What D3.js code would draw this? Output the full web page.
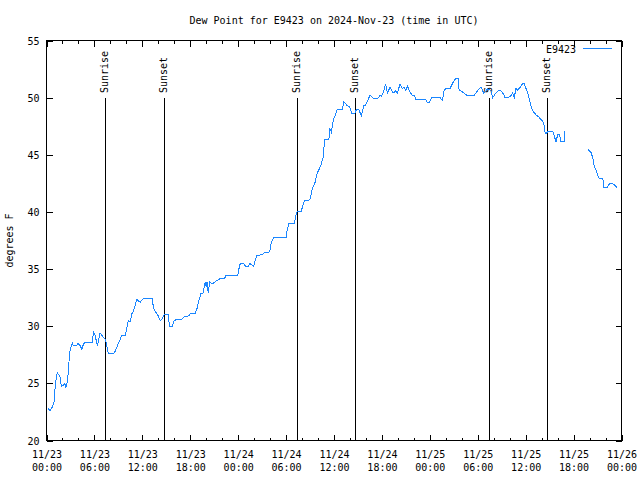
<!DOCTYPE html>
<html><head><meta charset="utf-8">
<script src="https://cdn.jsdelivr.net/npm/d3@7"></script>
<style>
body{margin:0;background:#fff}
svg{display:block}
text{font-family:"DejaVu Sans Mono","Liberation Mono",monospace;font-size:10px;fill:#000}
</style>
</head><body>
<svg id="chart" width="640" height="480"></svg>
<script>
const titleText = "Dew Point for E9423 on 2024-Nov-23 (time in UTC)";
const seriesName = "E9423";
const yLabelText = "degrees F";
const startUTC = Date.UTC(2024, 10, 23, 0, 0);
const endUTC = Date.UTC(2024, 10, 26, 0, 0);

// hours since 2024-11-23 00:00 UTC
const hoursSinceStart = [0.23,0.44,0.78,0.94,1.10,1.28,1.36,1.69,1.86,2.11,2.28,2.41,2.61,2.79,2.86,3.04,3.24,3.36,3.79,3.95,4.20,4.42,4.62,4.83,5.75,5.87,6.09,6.21,6.37,6.55,6.71,6.93,7.13,7.38,7.55,7.75,8.38,8.59,8.88,9.22,9.44,9.89,10.06,10.26,10.48,10.69,10.89,11.10,11.32,11.52,11.73,11.94,12.23,13.24,13.40,13.61,13.83,14.03,14.24,14.45,14.74,15.24,15.41,15.75,15.91,16.25,16.96,17.25,17.84,18.01,18.63,18.85,19.05,19.35,19.60,19.89,20.01,20.10,20.26,20.43,20.73,21.14,21.56,21.86,22.31,22.48,23.94,24.19,24.37,24.69,24.91,25.32,25.45,25.75,25.95,26.16,26.37,27.00,27.20,27.95,28.13,28.46,30.01,30.14,30.34,31.05,31.18,31.39,31.89,32.06,32.31,32.97,33.15,33.27,33.60,33.69,33.90,34.32,34.66,34.82,35.36,35.48,35.66,35.91,36.20,36.41,37.04,37.24,37.58,37.99,38.21,38.58,38.83,39.12,39.42,39.75,39.96,40.25,40.50,40.93,41.51,41.76,41.93,42.18,42.47,42.69,43.01,43.31,43.51,43.73,43.94,44.27,44.57,44.77,44.98,45.19,45.52,45.82,46.11,46.24,47.49,47.70,47.90,48.21,49.28,49.59,49.79,50.00,50.54,50.84,51.25,51.54,51.67,52.10,52.63,53.55,53.76,54.18,54.48,54.73,55.02,55.23,55.65,55.86,56.27,56.69,56.90,57.24,57.40,57.74,58.07,58.37,58.57,58.78,58.99,59.32,59.62,59.82,60.04,60.25,60.45,60.58,60.75,61.00,61.29,61.58,61.92,62.26,62.42,62.55,62.76,63.39,63.80,64.01,64.22,64.43,64.84,64.93,66.00,67.78,68.19,68.41,68.61,68.82,69.03,69.24,69.66,69.79,70.20,70.49,70.79,71.12,71.42];
const dewPointF = [22.8,22.6,23.0,23.4,24.8,25.7,25.9,25.6,24.7,24.85,25.0,24.65,25.1,26.4,27.6,28.1,28.5,28.3,28.3,28.5,28.3,28.0,28.4,28.6,28.6,29.5,29.2,28.8,28.3,28.85,29.4,29.2,29.0,28.85,28.3,27.6,27.6,27.8,28.3,28.85,29.2,29.2,29.9,30.5,30.4,31.1,31.3,31.85,32.35,32.2,32.1,32.3,32.45,32.45,31.55,31.3,31.1,30.85,30.5,30.6,31.0,31.0,30.0,30.0,30.4,30.6,30.6,30.85,30.9,31.1,31.15,31.55,32.15,32.9,32.9,33.9,33.4,33.9,32.9,33.9,33.7,33.9,34.1,34.2,34.2,34.45,34.45,35.35,35.5,35.5,35.25,35.25,35.5,35.35,35.25,35.8,36.2,36.25,36.4,36.5,37.25,37.8,37.8,38.4,39.0,39.0,39.6,40.0,40.05,40.45,41.0,41.05,41.55,42.05,42.5,42.8,43.4,44.0,44.8,46.3,46.3,47.3,47.0,48.05,48.5,49.0,49.0,49.65,49.35,49.15,48.6,48.6,49.0,48.95,48.4,49.35,49.35,49.8,50.2,49.95,49.95,50.2,50.1,50.5,51.2,50.4,50.9,50.5,50.4,50.65,50.4,51.2,50.8,50.95,50.65,51.0,50.5,50.2,50.15,49.85,49.85,49.55,49.55,50.0,50.0,49.75,50.65,50.8,50.8,51.25,51.7,51.7,50.65,50.5,50.2,50.2,50.4,50.8,50.9,50.4,50.55,50.8,50.6,50.0,50.4,50.65,50.6,50.3,50.0,50.0,50.1,50.4,50.0,50.8,50.65,50.9,51.25,51.2,50.8,50.4,49.85,49.5,49.05,48.75,48.5,48.35,48.1,47.8,47.0,46.8,47.05,47.05,46.15,46.75,46.75,46.15,46.15,47.1,null,45.5,45.2,44.7,43.95,43.65,43.2,42.9,42.9,42.15,42.15,42.45,42.5,42.35,42.15];

const sunriseHours = [7.33, 31.37, 55.41];
const sunsetHours = [14.71, 38.63, 62.67];
const yTicks = [20, 25, 30, 35, 40, 45, 50, 55];
const xMajorHours = [0, 6, 12, 18, 24, 30, 36, 42, 48, 54, 60, 66, 72];
const xMinorHours = [2, 4, 8, 10, 14, 16, 20, 22, 26, 28, 32, 34, 38, 40, 44, 46, 50, 52, 56, 58, 62, 64, 68, 70];

const L = 46.5, R = 621.5, T = 40.5, B = 440.5;
const lineColor = "#1a86ff";
const toDate = h => new Date(startUTC + h * 3600000);

const svg = d3.select("#chart");
const x = d3.scaleUtc().domain([new Date(startUTC), new Date(endUTC)]).range([L, R]);
const y = d3.scaleLinear().domain([20, 55]).range([B, T]);

const data = hoursSinceStart.map((h, i) => ({t: toDate(h), v: dewPointF[i]}));

function axisG(axis, tx, ty) {
  const g = svg.append("g").attr("transform", `translate(${tx},${ty})`).call(axis);
  g.select(".domain").remove();
  g.selectAll("line").attr("stroke", "#000").attr("shape-rendering", "crispEdges");
  g.selectAll(".tick text").remove();
  return g;
}
const majorDates = xMajorHours.map(toDate), minorDates = xMinorHours.map(toDate);
const gBottom = axisG(d3.axisBottom(x).tickValues(majorDates).tickSizeInner(-6).tickSizeOuter(0), 0, B);
axisG(d3.axisBottom(x).tickValues(minorDates).tickSizeInner(-3).tickSizeOuter(0), 0, B);
axisG(d3.axisTop(x).tickValues(majorDates).tickSizeInner(-6).tickSizeOuter(0), 0, T);
axisG(d3.axisTop(x).tickValues(minorDates).tickSizeInner(-3).tickSizeOuter(0), 0, T);
const gLeft = axisG(d3.axisLeft(y).tickValues(yTicks).tickSizeInner(-6).tickSizeOuter(0), L, 0);
axisG(d3.axisRight(y).tickValues(yTicks).tickSizeInner(-6).tickSizeOuter(0), R, 0);

const fmtDay = d3.utcFormat("%m/%d"), fmtTime = d3.utcFormat("%H:%M");
const lbl = gBottom.selectAll(".tick").append("text").attr("text-anchor", "middle");
lbl.append("tspan").attr("x", 0).attr("y", 17.5).text(d => fmtDay(d));
lbl.append("tspan").attr("x", 0).attr("y", 30.5).text(d => fmtTime(d));

gLeft.selectAll(".tick").append("text").attr("text-anchor", "end")
  .attr("x", -7).attr("y", 0).attr("dy", "0.35em").text(d => d);

svg.append("rect").attr("x", L).attr("y", T).attr("width", R - L).attr("height", B - T)
  .attr("fill", "none").attr("stroke", "#000").attr("shape-rendering", "crispEdges");

const events = sunriseHours.map(h => ({h, name: "Sunrise"}))
  .concat(sunsetHours.map(h => ({h, name: "Sunset"})));
const ev = svg.append("g").selectAll("g").data(events).join("g");
ev.append("line")
  .attr("x1", d => Math.round(x(toDate(d.h))) + 0.5).attr("x2", d => Math.round(x(toDate(d.h))) + 0.5)
  .attr("y1", B).attr("y2", 98).attr("stroke", "#000").attr("shape-rendering", "crispEdges");
ev.append("text")
  .attr("transform", d => `translate(${Math.round(x(toDate(d.h))) + 3},93) rotate(-90)`)
  .attr("text-anchor", "start").text(d => d.name);

const line = d3.line().defined(d => d.v != null).x(d => x(d.t)).y(d => y(d.v));
svg.append("path").datum(data).attr("d", line).attr("fill", "none")
  .attr("stroke", lineColor).attr("stroke-width", 1).attr("shape-rendering", "crispEdges");

svg.append("text").attr("x", (L + R) / 2).attr("y", 24).attr("text-anchor", "middle").text(titleText);
svg.append("text").attr("transform", `translate(13,${(T + B) / 2}) rotate(-90)`)
  .attr("text-anchor", "middle").text(yLabelText);

svg.append("text").attr("x", 576).attr("y", 53).attr("text-anchor", "end").text(seriesName);
svg.append("line").attr("x1", 583).attr("x2", 612).attr("y1", 48.5).attr("y2", 48.5)
  .attr("stroke", lineColor).attr("shape-rendering", "crispEdges");
</script>
</body></html>
